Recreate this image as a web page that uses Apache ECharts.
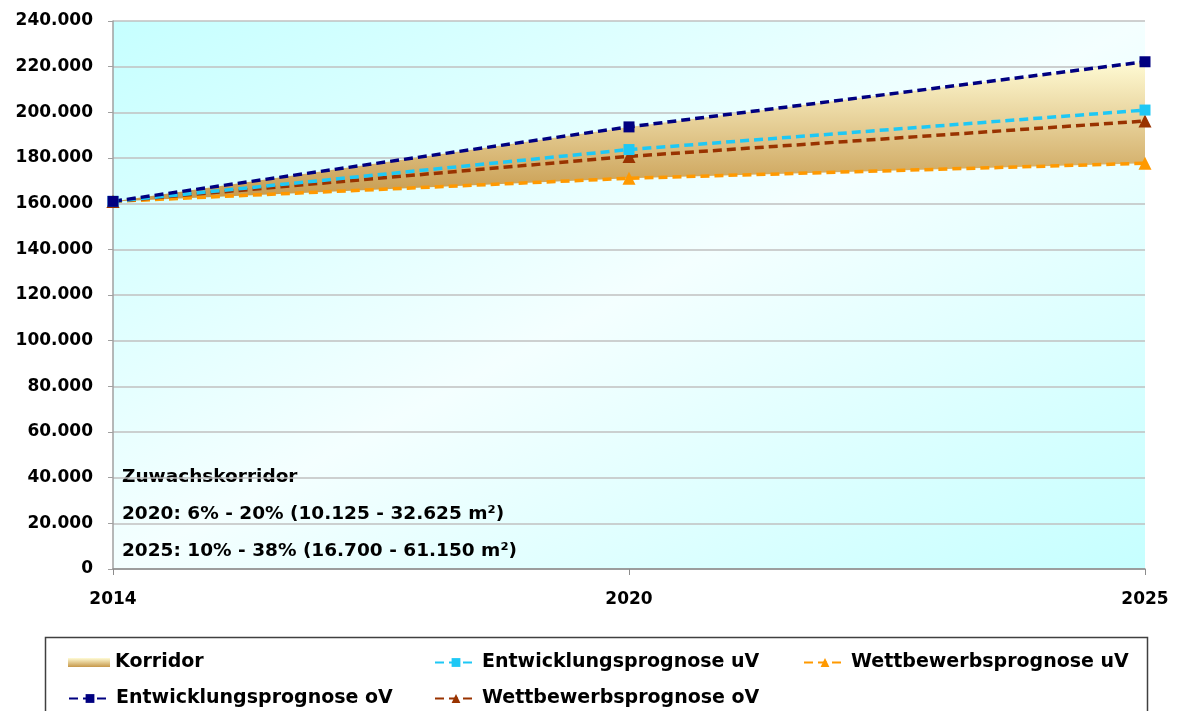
<!DOCTYPE html>
<html>
<head>
<meta charset="utf-8">
<script src="https://cdn.jsdelivr.net/npm/echarts@6/dist/echarts.min.js"></script>
<style>
  html, body { margin: 0; padding: 0; background: #fff; }
  #chart { width: 1177px; height: 711px; }
</style>
</head>
<body>
<div id="chart"></div>
<script>
// data
const years = ['2014', '2020', '2025']
const entwOV = [161000, 193625, 222150]   // Entwicklungsprognose oV
const entwUV = [161000, 183700, 201000]   // Entwicklungsprognose uV
const wettOV = [161000, 180700, 196200]   // Wettbewerbsprognose oV
const wettUV = [161000, 171125, 177700]   // Wettbewerbsprognose uV
const notes = [
  'Zuwachskorridor',
  '2020: 6% - 20% (10.125 - 32.625 m²)',
  '2025: 10% - 38% (16.700 - 61.150 m²)',
]

const FONT = 'DejaVu Sans'
const C_NAVY = '#000080'
const C_CYAN = '#1ec8f5'
const C_BROWN = '#993300'
const C_ORANGE = '#ff9900'

// Korridor = band between lower (Wettbewerb uV) and upper (Entwicklung oV)
const corridor = entwOV.map((v, i) => v - wettUV[i])

const bandGrad = () => new echarts.graphic.LinearGradient(0, 0, 0, 1, [
  { offset: 0, color: '#fffbd4' },
  { offset: 1, color: '#c6984a' },
])

const fmt = v => String(v).replace(/\B(?=(\d{3})+(?!\d))/g, '.')

function lineSeries(name, data, color, symbol, size) {
  return {
    name, type: 'line', data,
    symbol, symbolSize: size,
    lineStyle: { color, width: 3.5, type: [9, 5] },
    itemStyle: { color },
    z: 3,
  }
}

const legendText = { fontFamily: FONT, fontWeight: 'bold', fontSize: 19, color: '#000' }
function legendAt(name, left, top, icon) {
  const item = icon ? { name, icon: 'rect', itemStyle: { color: bandGrad() } } : name
  return {
    data: [item], left, top,
    itemWidth: 42, itemHeight: icon ? 9 : 11, itemGap: 0,
    textStyle: legendText,
  }
}

const chart = echarts.init(document.getElementById('chart'))
chart.setOption({
  animation: false,
  grid: {
    left: 113, right: 32, top: 21, bottom: 142,
    show: true, borderWidth: 0,
    // diagonal: cyan corners top-left / bottom-right, pale along the other diagonal
    backgroundColor: new echarts.graphic.LinearGradient(0.28, -0.28, 0.72, 1.28, [
      { offset: 0, color: '#c6ffff' },
      { offset: 0.5, color: '#f4ffff' },
      { offset: 1, color: '#c6ffff' },
    ]),
  },
  xAxis: {
    type: 'category', data: years, boundaryGap: false,
    axisLine: { lineStyle: { color: '#8c8c8c', width: 1.5 } },
    axisTick: { show: true, length: 6, lineStyle: { color: '#8c8c8c' } },
    axisLabel: { fontFamily: FONT, fontWeight: 'bold', fontSize: 17, color: '#000', margin: 22 },
  },
  yAxis: {
    type: 'value', min: 0, max: 240000, interval: 20000,
    axisLine: { show: true, lineStyle: { color: '#a0a0a0', width: 1.5 } },
    axisTick: { show: true, length: 5, lineStyle: { color: '#a0a0a0' } },
    splitLine: { lineStyle: { color: '#c0c0c0', width: 1.5 } },
    axisLabel: { fontFamily: FONT, fontWeight: 'bold', fontSize: 17, color: '#000', margin: 20, formatter: fmt },
  },
  legend: [
    legendAt('Korridor', 63, 648, true),
    legendAt('Entwicklungsprognose oV', 63, 684),
    legendAt('Entwicklungsprognose uV', 429, 648),
    legendAt('Wettbewerbsprognose oV', 429, 684),
    legendAt('Wettbewerbsprognose uV', 798, 648),
  ],
  graphic: [
    {
      type: 'rect', left: 43, top: 635, silent: true,
      shape: { width: 1102, height: 90 },
      style: { fill: 'none', stroke: '#404040', lineWidth: 1.5 },
    },
    ...notes.map((t, i) => ({
      type: 'text', left: 122, top: 468 + i * 37, silent: true,
      style: { text: t, fontFamily: FONT, fontWeight: 'bold', fontSize: 18.5, fill: '#000' },
    })),
  ],
  series: [
    {
      name: '_base', type: 'line', stack: 'k', data: wettUV,
      symbol: 'none', lineStyle: { opacity: 0 }, silent: true,
    },
    {
      name: 'Korridor', type: 'line', stack: 'k', data: corridor,
      symbol: 'none', lineStyle: { opacity: 0 },
      itemStyle: { color: '#d9b46a' },
      areaStyle: { color: bandGrad(), opacity: 1 },
      z: 1,
    },
    lineSeries('Wettbewerbsprognose uV', wettUV, C_ORANGE, 'triangle', 13),
    lineSeries('Wettbewerbsprognose oV', wettOV, C_BROWN, 'triangle', 13),
    lineSeries('Entwicklungsprognose uV', entwUV, C_CYAN, 'rect', 11),
    lineSeries('Entwicklungsprognose oV', entwOV, C_NAVY, 'rect', 11),
  ],
})
</script>
</body>
</html>
